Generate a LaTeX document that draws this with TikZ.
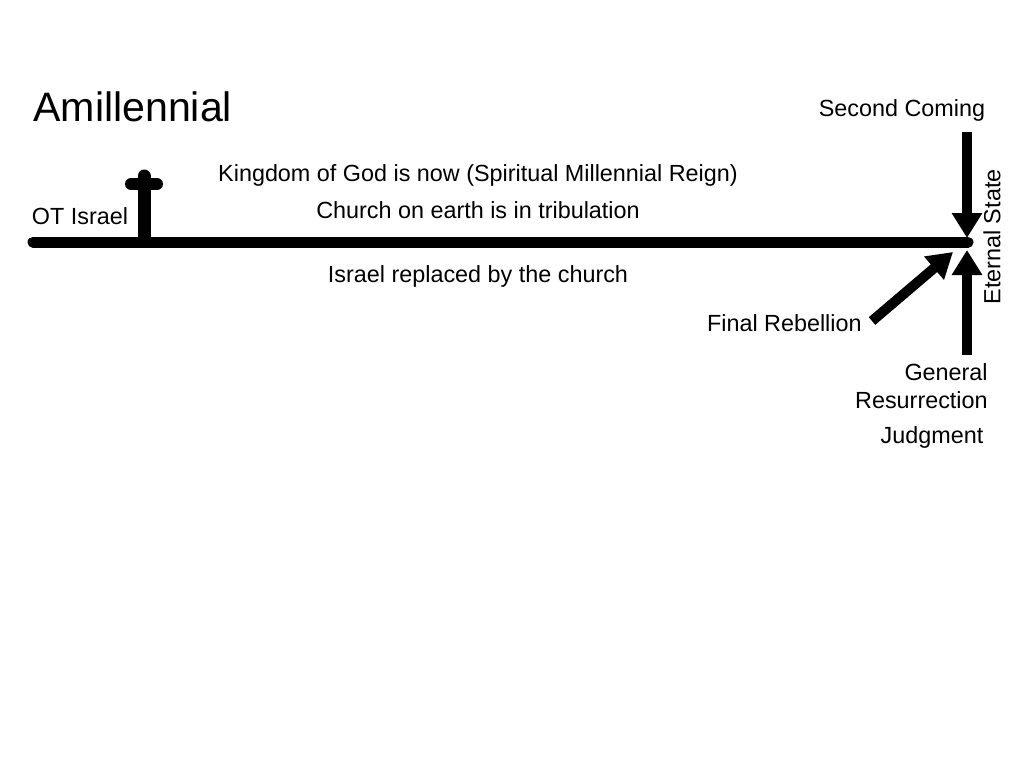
\documentclass[tikz,border=0pt]{standalone}
\usepackage{fontspec}
\setmainfont{Liberation Sans}
\usetikzlibrary{arrows.meta}
\begin{document}
\begin{tikzpicture}[x=0.02cm, y=-0.02cm,
    every node/.style={inner sep=0pt, font=\fontsize{13.3}{15}\selectfont},
    timeline/.style={line width=0.22cm, line cap=round},
    bigarrow/.style={line width=0.2cm, -{Triangle[length=0.5cm, width=0.58cm]}}]
    \useasboundingbox (0,0) rectangle (1024,768);

    % Title
    \node[anchor=west, font=\fontsize{23.4}{28}\selectfont] (title) at (33,107) {Amillennial};

    % Time line and cross
    \coordinate (start) at (33,242);
    \coordinate (end) at (968,242);
    \draw[timeline] (start) -- (end);
    \coordinate (crossbot) at (144,236);
    \coordinate (crosstop) at (144,176);
    \coordinate (barleft) at (131,184);
    \coordinate (barright) at (157,184);
    \draw[line width=0.26cm, line cap=round] (crossbot) -- (crosstop);
    \draw[line width=0.24cm, line cap=round] (barleft) -- (barright);

    % Labels along the line
    \node (otisrael) at (80,216) {OT Israel};
    \node (kingdom) at (478,175) {Kingdom of God is now (Spiritual Millennial Reign)};
    \node (church) at (478,210) {Church on earth is in tribulation};
    \node (replaced) at (478,276) {Israel replaced by the church};

    % End events
    \node (second) at (902,110) {Second Coming};
    \node[anchor=east] (rebellion) at (862,323) {Final Rebellion};
    \node[anchor=east, align=right] (resurrection) at (988,386) {General\\[1pt]Resurrection};
    \node (judgment) at (932,437) {Judgment};
    \node[rotate=90] (eternal) at (992,237) {Eternal State};

    % Arrows
    \coordinate (downtop) at (967,132);
    \coordinate (downtip) at (967,238);
    \coordinate (upbot) at (967,355);
    \coordinate (uptip) at (967,250);
    \coordinate (diagbot) at (872,321);
    \coordinate (diagtip) at (953,252);
    \draw[bigarrow] (downtop) -- (downtip);
    \draw[bigarrow] (upbot) -- (uptip);
    \draw[bigarrow] (diagbot) -- (diagtip);
\end{tikzpicture}
\end{document}
